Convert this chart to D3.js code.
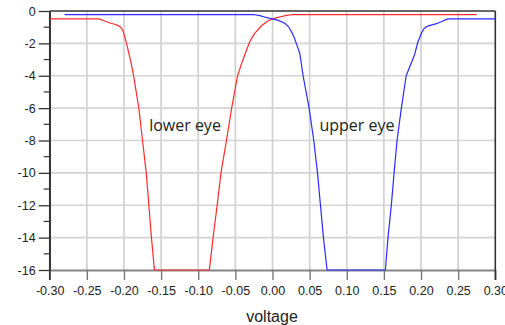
<!DOCTYPE html>
<html>
<head>
<meta charset="utf-8">
<script src="https://cdn.jsdelivr.net/npm/d3@7"></script>
<style>
  html, body { margin: 0; padding: 0; background: #fff; }
  svg { display: block; }
</style>
</head>
<body>
<svg id="chart" width="505" height="325"></svg>
<script>
// Eye response vs. voltage: [voltage, value] pairs for each eye
const lowerEye = [
  [-0.300, -0.49], [-0.235, -0.49], [-0.2323, -0.50], [-0.226, -0.62], [-0.219, -0.74],
  [-0.2125, -0.82], [-0.2077, -0.90], [-0.2045, -1.0], [-0.2015, -1.2], [-0.1995, -1.5],
  [-0.1975, -1.85], [-0.1955, -2.2], [-0.193, -2.7], [-0.190, -3.3], [-0.187, -4],
  [-0.180, -6], [-0.175, -8], [-0.170, -10], [-0.1665, -12], [-0.163, -14], [-0.159, -16],
  [-0.085, -16], [-0.080, -14], [-0.0745, -12], [-0.0694, -10], [-0.062, -8],
  [-0.055, -6], [-0.047, -4], [-0.042, -3.3], [-0.0373, -2.7], [-0.0307, -1.9],
  [-0.024, -1.38], [-0.0148, -0.91], [-0.0058, -0.60], [0.000, -0.49], [0.006, -0.41],
  [0.0122, -0.34], [0.019, -0.27], [0.0256, -0.23], [0.035, -0.22], [0.275, -0.22]
];
const upperEye = [
  [-0.280, -0.22], [-0.024, -0.23], [-0.017, -0.29], [-0.0106, -0.37], [-0.005, -0.44],
  [0.000, -0.49], [0.008, -0.58], [0.0166, -0.76], [0.022, -1.0], [0.0256, -1.28],
  [0.029, -1.6], [0.032, -2.0], [0.0367, -2.6], [0.0412, -4], [0.0493, -6],
  [0.0556, -8], [0.0606, -10], [0.0646, -12], [0.0686, -14], [0.0735, -16],
  [0.152, -16], [0.1555, -14], [0.160, -12], [0.1637, -10], [0.1677, -8],
  [0.1735, -6], [0.180, -4], [0.186, -3.3], [0.1913, -2.7], [0.1959, -1.9],
  [0.2005, -1.38], [0.2035, -1.12], [0.2072, -0.97], [0.211, -0.90], [0.2161, -0.84],
  [0.222, -0.76], [0.2274, -0.66], [0.232, -0.56], [0.2363, -0.49], [0.300, -0.49]
];
const xTicks = [-0.30, -0.25, -0.20, -0.15, -0.10, -0.05, 0.00, 0.05, 0.10, 0.15, 0.20, 0.25, 0.30];
const yTicks = [0, -2, -4, -6, -8, -10, -12, -14, -16];
const yMinorTicks = [-1, -3, -5, -7, -9, -11, -13, -15];
const curveLabels = [
  { text: "lower eye", v: -0.1178, y: -7.39 },
  { text: "upper eye", v: 0.1138, y: -7.39 }
];

const svg = d3.select("#chart");
const plotLeft = 49.7, plotRight = 495.3, plotTop = 11, plotBottom = 270;

const x = d3.scaleLinear().domain([-0.30, 0.30]).range([plotLeft, plotRight]);
const y = d3.scaleLinear().domain([-16, 0]).range([plotBottom, plotTop]);

// grid
const grid = svg.append("g");
grid.selectAll("line.vg").data(xTicks.slice(1, -1)).join("line")
  .attr("x1", d => x(d)).attr("x2", d => x(d))
  .attr("y1", plotTop).attr("y2", plotBottom)
  .attr("stroke", "#cfcfcf").attr("stroke-width", 1.6);
grid.selectAll("line.hg").data(yTicks.slice(1, -1)).join("line")
  .attr("x1", plotLeft).attr("x2", plotRight)
  .attr("y1", d => y(d)).attr("y2", d => y(d))
  .attr("stroke", "#d4d4d4").attr("stroke-width", 1.6);

// bottom axis
const xAxis = d3.axisBottom(x).tickValues(xTicks).tickSize(10).tickSizeOuter(0)
  .tickFormat(d => d3.format(".2f")(d).replace("−", "-"));
const gx = svg.append("g").attr("transform", `translate(0,${plotBottom})`).call(xAxis);
gx.select(".domain").attr("stroke", "#858585").attr("stroke-width", 1.8);
gx.selectAll(".tick line").attr("stroke", "#777").attr("stroke-width", 1.4);
gx.selectAll(".tick text").attr("font-family", "Liberation Sans, Arial, sans-serif")
  .attr("font-size", 12.5).attr("fill", "#222").attr("dy", "0.95em");

// left axis
const yAxis = d3.axisLeft(y).tickValues(yTicks).tickSize(11).tickSizeOuter(0)
  .tickFormat(d => String(d));
const gy = svg.append("g").attr("transform", `translate(${plotLeft},0)`).call(yAxis);
gy.select(".domain").attr("stroke", "#333").attr("stroke-width", 1.5);
gy.selectAll(".tick line").attr("stroke", "#333").attr("stroke-width", 1.3);
gy.selectAll(".tick text").attr("font-family", "Liberation Sans, Arial, sans-serif")
  .attr("font-size", 12.5).attr("fill", "#222").attr("x", -14);
svg.append("g").selectAll("line").data(yMinorTicks).join("line")
  .attr("x1", plotLeft - 6).attr("x2", plotLeft)
  .attr("y1", d => y(d)).attr("y2", d => y(d))
  .attr("stroke", "#333").attr("stroke-width", 1.2);

// frame: left edge down to tick length, top and right borders
svg.append("line").attr("x1", plotLeft).attr("x2", plotLeft).attr("y1", plotTop).attr("y2", plotBottom + 10)
  .attr("stroke", "#333").attr("stroke-width", 1.5);
svg.append("line").attr("x1", plotLeft).attr("x2", plotRight).attr("y1", plotTop).attr("y2", plotTop)
  .attr("stroke", "#333").attr("stroke-width", 1.6);
svg.append("line").attr("x1", plotRight).attr("x2", plotRight).attr("y1", plotTop).attr("y2", plotBottom + 10)
  .attr("stroke", "#333").attr("stroke-width", 1.6);

// curves
const line = d3.line().x(d => x(d[0])).y(d => y(d[1]));
svg.append("path").datum(lowerEye).attr("d", line)
  .attr("fill", "none").attr("stroke", "#ff2a2a").attr("stroke-width", 1.2)
  .attr("stroke-linejoin", "round");
svg.append("path").datum(upperEye).attr("d", line)
  .attr("fill", "none").attr("stroke", "#2a2aff").attr("stroke-width", 1.2)
  .attr("stroke-linejoin", "round");

// curve labels
svg.append("g").selectAll("text").data(curveLabels).join("text")
  .attr("x", d => x(d.v)).attr("y", d => y(d.y))
  .attr("text-anchor", "middle")
  .attr("font-family", "Open Sans, sans-serif").attr("font-size", 16)
  .attr("fill", "#222").text(d => d.text);

// axis title
svg.append("text").attr("x", 272).attr("y", 321.5).attr("text-anchor", "middle")
  .attr("font-family", "Liberation Sans, Arial, sans-serif").attr("font-size", 16)
  .attr("fill", "#222").text("voltage");
</script>
</body>
</html>
